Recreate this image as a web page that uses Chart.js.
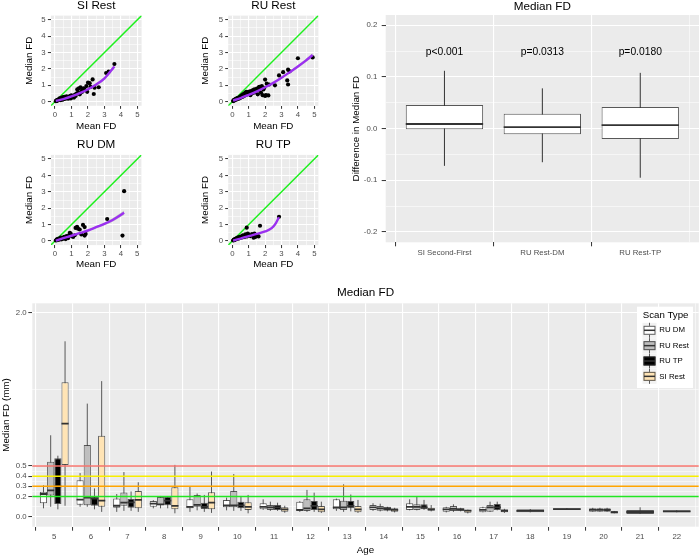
<!DOCTYPE html>
<html><head><meta charset="utf-8">
<script src="https://cdn.jsdelivr.net/npm/chart.js@4.4.1/dist/chart.umd.min.js"></script>
<style>
html,body{margin:0;padding:0;background:#fff}
body{width:700px;height:557px;position:relative;overflow:hidden}
canvas{position:absolute;display:block}
</style></head>
<body>
<canvas id="pSI" width="175" height="135" style="left:0;top:0"></canvas>
<canvas id="pRR" width="175" height="135" style="left:175px;top:0"></canvas>
<canvas id="pDM" width="175" height="135" style="left:0;top:135px"></canvas>
<canvas id="pTP" width="175" height="135" style="left:175px;top:135px"></canvas>
<canvas id="pDiff" width="350" height="270" style="left:350px;top:0"></canvas>
<canvas id="pAge" width="700" height="287" style="left:0;top:270px"></canvas>
<script>
// ---------------- DATA ----------------
// Scatter panels: x = Mean FD, y = Median FD
const SIR_X = [0.05,0.08,0.10,0.12,0.15,0.18,0.20,0.22,0.25,0.28, 0.30,0.32,0.35,0.38,0.40,0.42,0.45,0.48,0.50,0.52, 0.55,0.58,0.60,0.63,0.66,0.70,0.73,0.76,0.80,0.84, 0.88,0.92,0.96,1.00,1.05,1.10,1.15,1.20,1.25,1.30, 1.35,1.40,1.45,1.50,1.55,1.60,1.65,1.70,1.75,1.80, 1.90,1.95,2.00,2.10,2.15,2.28,2.35,2.40,2.65,3.10,3.25,3.60];
const SIR_Y = [0.03,0.06,0.05,0.10,0.08,0.12,0.10,0.15,0.12,0.20, 0.14,0.18,0.10,0.22,0.16,0.25,0.12,0.20,0.28,0.15, 0.22,0.30,0.18,0.25,0.20,0.32,0.22,0.28,0.18,0.30, 0.25,0.35,0.20,0.38,0.28,0.32,0.25,0.42,0.35,0.50, 0.75,0.55,0.82,0.45,0.87,0.65,0.60,0.78,0.82,0.70, 0.95,0.60,1.16,1.13,0.90,1.36,0.47,0.85,0.88,1.75,1.83,2.30];
const RUR_X = [0.05,0.08,0.10,0.12,0.15,0.18,0.20,0.22,0.25,0.28, 0.30,0.33,0.36,0.40,0.43,0.46,0.50,0.53,0.56,0.60, 0.63,0.66,0.70,0.73,0.76,0.80,0.83,0.86,0.90,0.93, 0.96,1.00,1.03,1.06,1.10,1.14,1.18,1.22,1.26,1.30, 1.35,1.40,1.45,1.50,1.55,1.60,1.65,1.70,1.75,1.80, 1.85,1.90,1.95,2.00,2.00,2.05,2.10,2.20,2.25,2.60, 2.85,3.10,3.35,3.40,3.40,3.50,4.00,4.90,1.62];
const RUR_Y = [0.04,0.08,0.06,0.12,0.10,0.15,0.12,0.18,0.14,0.20, 0.16,0.22,0.18,0.25,0.20,0.30,0.24,0.35,0.28,0.40, 0.30,0.45,0.35,0.50,0.38,0.55,0.42,0.60,0.45,0.50, 0.58,0.48,0.62,0.55,0.40,0.65,0.50,0.60,0.70,0.55, 0.75,0.60,0.68,0.80,0.45,0.70,0.90,0.82,0.55,0.95, 0.40,0.75,0.85,1.35,0.35,0.40,1.10,0.38,1.05,1.00, 1.60,1.80,1.30,1.05,1.95,1.85,2.65,2.70,0.88];
const RUD_X = [0.05,0.10,0.12,0.15,0.20,0.22,0.25,0.30,0.35,0.40, 0.45,0.50,0.55,0.60,0.65,0.70,0.75,0.80,0.85,0.90, 0.95,1.00,1.10,1.20,1.25,1.34,1.40,1.50,1.60,1.70, 1.80,1.86,1.80,3.17,4.10,4.20];
const RUD_Y = [0.03,0.08,0.05,0.12,0.10,0.15,0.08,0.12,0.20,0.10, 0.18,0.14,0.25,0.20,0.12,0.30,0.22,0.18,0.35,0.50, 0.45,0.30,0.25,0.35,0.80,0.87,0.75,0.70,0.40,0.98, 0.85,0.43,0.33,1.34,0.33,3.04];
const RUT_X = [0.05,0.08,0.10,0.13,0.15,0.18,0.20,0.23,0.25,0.28, 0.30,0.33,0.36,0.40,0.43,0.46,0.50,0.55,0.60,0.65, 0.70,0.75,0.80,0.85,0.88,0.90,0.95,1.00,1.10,1.20, 1.30,1.35,1.40,1.45,1.50,1.60,1.69,2.85];
const RUT_Y = [0.03,0.06,0.05,0.10,0.08,0.12,0.10,0.14,0.12,0.18, 0.15,0.20,0.14,0.22,0.18,0.25,0.20,0.28,0.22,0.35, 0.30,0.25,0.40,0.35,0.81,0.28,0.45,0.38,0.30,0.42, 0.20,0.45,0.25,0.30,0.35,0.28,0.93,1.48];

// smooth fits and their band half-widths
const SIR_FIT_X = [0.05,0.5,1.0,1.5,2.0,2.5,3.0,3.6];
const SIR_FIT_Y = [0.05,0.16,0.32,0.52,0.76,1.05,1.42,2.15];
const SIR_FIT_SE = [0.04,0.02,0.03,0.04,0.05,0.07,0.09,0.13];
const RUR_FIT_X = [0.05,0.5,1.0,1.5,2.0,2.5,3.0,3.5,4.0,4.5,4.9];
const RUR_FIT_Y = [0.07,0.22,0.42,0.63,0.88,1.15,1.46,1.80,2.15,2.52,2.85];
const RUR_FIT_SE = [0.03,0.02,0.02,0.03,0.04,0.05,0.06,0.07,0.08,0.10,0.12];
const RUD_FIT_X = [0.05,0.5,1.0,1.5,2.0,2.5,3.0,3.5,4.2];
const RUD_FIT_Y = [0.02,0.17,0.32,0.48,0.64,0.84,1.04,1.28,1.72];
const RUD_FIT_SE = [0.04,0.03,0.03,0.04,0.05,0.06,0.08,0.10,0.14];
const RUT_FIT_X = [0.05,0.5,1.0,1.5,2.0,2.4,2.65,2.85];
const RUT_FIT_Y = [0.03,0.15,0.30,0.44,0.58,0.78,1.08,1.45];
const RUT_FIT_SE = [0.03,0.02,0.03,0.04,0.05,0.06,0.07,0.08];

const SC_LIMITS = [-0.25, 5.25];
const SC_MAJOR = [0,1,2,3,4,5];
const SC_MINOR = [0.5,1.5,2.5,3.5,4.5];

// Difference boxplot
const DIFF_CATS = ['SI Second-First','RU Rest-DM','RU Rest-TP'];
const DIFF_LO  = [-0.072,-0.065,-0.095];
const DIFF_Q1  = [-0.001,-0.011,-0.020];
const DIFF_MED = [0.009,0.003,0.007];
const DIFF_Q3  = [0.046,0.029,0.042];
const DIFF_HI  = [0.112,0.078,0.108];
const DIFF_P   = ['p<0.001','p=0.0313','p=0.0180'];
const DIFF_P_Y = 0.148;
const DIFF_MAJOR = [-0.2,-0.1,0.0,0.1,0.2];
const DIFF_MINOR = [-0.15,-0.05,0.05,0.15];

// Age boxplot
const AGES = [5,6,7,8,9,10,11,12,13,14,15,16,17,18,19,20,21,22];
const SERIES = ['RU DM','RU Rest','RU TP','SI Rest'];
const DM_LO  = [0.085,0.10,0.05,0.085,0.05,0.065,0.07,0.05,0.06,0.06,0.065,0.045,0.046,null,null,0.052,null,null];
const DM_Q1  = [0.134,0.12,0.09,0.10,0.085,0.095,0.075,0.059,0.075,0.069,0.069,0.052,0.046,null,null,0.052,null,null];
const DM_MED = [0.225,0.17,0.11,0.13,0.10,0.114,0.10,0.069,0.095,0.095,0.10,0.075,0.069,null,null,0.069,null,null];
const DM_Q3  = [0.248,0.36,0.18,0.157,0.173,0.167,0.134,0.15,0.173,0.118,0.134,0.095,0.095,null,null,0.085,null,null];
const DM_HI  = [0.31,0.43,0.225,0.165,0.297,0.19,0.173,0.155,0.18,0.135,0.173,0.10,0.10,null,null,0.09,null,null];
const RR_LO  = [0.10,0.10,0.06,0.085,0.065,0.06,0.06,0.05,0.05,0.055,0.065,0.05,0.05,null,null,0.052,null,null];
const RR_Q1  = [0.21,0.115,0.11,0.118,0.10,0.095,0.069,0.059,0.069,0.062,0.069,0.059,0.052,null,null,0.052,null,null];
const RR_MED = [0.26,0.19,0.14,0.124,0.118,0.114,0.095,0.085,0.095,0.085,0.10,0.08,0.095,null,null,0.069,null,null];
const RR_Q3  = [0.54,0.705,0.24,0.196,0.216,0.255,0.118,0.173,0.16,0.108,0.124,0.108,0.118,null,null,0.085,null,null];
const RR_HI  = [0.80,1.11,0.44,0.206,0.23,0.42,0.15,0.265,0.32,0.13,0.20,0.124,0.15,null,null,0.09,null,null];
const TP_LO  = [0.075,0.075,0.06,0.085,0.05,0.06,0.06,0.05,0.055,0.055,0.07,0.055,0.065,null,null,0.052,null,null];
const TP_Q1  = [0.128,0.11,0.09,0.115,0.078,0.085,0.069,0.069,0.085,0.062,0.075,0.059,0.069,null,null,0.052,null,null];
const TP_MED = [0.30,0.18,0.144,0.16,0.10,0.114,0.095,0.108,0.108,0.08,0.095,0.075,0.095,null,null,0.069,null,null];
const TP_Q3  = [0.575,0.20,0.176,0.196,0.14,0.15,0.118,0.157,0.157,0.10,0.124,0.085,0.127,null,null,0.085,null,null];
const TP_HI  = [0.60,0.28,0.25,0.196,0.216,0.206,0.14,0.238,0.22,0.10,0.167,0.09,0.15,null,null,0.09,null,null];
const SI_LO  = [0.11,0.05,0.05,0.036,0.04,0.036,0.042,0.04,0.04,0.045,0.055,0.035,0.04,null,null,0.036,null,null];
const SI_Q1  = [0.51,0.10,0.085,0.075,0.075,0.068,0.052,0.046,0.046,0.052,0.062,0.042,0.046,null,null,0.036,null,null];
const SI_MED = [0.915,0.16,0.167,0.108,0.14,0.10,0.075,0.075,0.075,0.069,0.075,0.062,0.06,null,null,0.045,null,null];
const SI_Q3  = [1.32,0.795,0.255,0.29,0.242,0.144,0.095,0.108,0.108,0.085,0.091,0.069,0.075,null,null,0.059,null,null];
const SI_HI  = [1.72,1.33,0.34,0.51,0.445,0.216,0.11,0.15,0.167,0.09,0.117,0.072,0.08,null,null,0.059,null,null];
// ages with a single (full width) box
const ONE_LO  = [null,null,null,null,null,null,null,null,null,null,null,null,null,0.046,0.069,null,0.030,0.046];
const ONE_Q1  = [null,null,null,null,null,null,null,null,null,null,null,null,null,0.046,0.072,null,0.030,0.046];
const ONE_MED = [null,null,null,null,null,null,null,null,null,null,null,null,null,0.059,0.078,null,0.049,0.055];
const ONE_Q3  = [null,null,null,null,null,null,null,null,null,null,null,null,null,0.075,0.085,null,0.069,0.066];
const ONE_HI  = [null,null,null,null,null,null,null,null,null,null,null,null,null,0.078,0.088,null,0.095,0.066];
const AGE_MAJOR = [0.0,0.2,0.3,0.4,0.5,2.0];
const AGE_MINOR = [0.1,0.25,0.35,0.45,1.25];
const THRESH = [0.5,0.4,0.3,0.2];
const THRESH_COLORS = ['#F4736C','#F8EE00','#FFA500','#22E622'];

// ---------------- STYLE ----------------
const FONT = "'Liberation Sans', Arial, Helvetica, sans-serif";
Chart.defaults.font.family = FONT;
Chart.defaults.color = '#4D4D4D';
const PANEL_BG = '#EBEBEB';
const FILLS = ['#FFFFFF','#BEBEBE','#000000','#FFE4B5'];
const BOX_BORDER = 'rgba(51,51,51,0.8)';
const PURPLE = '#9B30F0';
const GREEN = '#1EF01E';

const near = (arr, v) => arr.some(a => Math.abs(a - v) < 1e-9);
const isMajor = (arr, c) => !!(c && c.tick && near(arr, c.tick.value));
const bgPlugin = { id: 'panelBg', beforeDraw(chart) {
  const {ctx, chartArea: a} = chart;
  ctx.save(); ctx.fillStyle = PANEL_BG; ctx.fillRect(a.left, a.top, a.right - a.left, a.bottom - a.top); ctx.restore();
}};
function gridOpts(major, tickLen) {
  return {
    color: '#FFFFFF',
    lineWidth: c => isMajor(major, c) ? 1.1 : 0.55,
    tickColor: c => isMajor(major, c) ? '#333333' : 'rgba(0,0,0,0)',
    tickWidth: 1,
    tickLength: tickLen,
    drawTicks: true
  };
}
const setTicks = vals => s => { s.ticks = vals.slice().sort((a, b) => a - b).map(v => ({value: v})); };

// ---------------- SCATTER PANELS ----------------
function scatterPanel(id, title, xs, ys, fx, fy, fse, area, tPad, yTitlePad, xTitlePad) {
  const W = 175, H = 135;
  const pts = xs.map((x, i) => ({x, y: ys[i]}));
  const fit = fx.map((x, i) => ({x, y: fy[i]}));
  const lo = fx.map((x, i) => ({x, y: fy[i] - fse[i]}));
  const hi = fx.map((x, i) => ({x, y: fy[i] + fse[i]}));
  const ident = SC_LIMITS.map(v => ({x: v, y: v}));
  new Chart(document.getElementById(id), {
    type: 'scatter',
    data: { datasets: [
      {type: 'line', data: lo, borderWidth: 0, borderColor: 'rgba(0,0,0,0)', pointRadius: 0, cubicInterpolationMode: 'monotone', fill: false, order: 4},
      {type: 'line', data: hi, borderWidth: 0, borderColor: 'rgba(0,0,0,0)', pointRadius: 0, cubicInterpolationMode: 'monotone', fill: '-1', backgroundColor: 'rgba(150,150,150,0.45)', order: 3},
      {type: 'line', data: ident, borderColor: GREEN, borderWidth: 1.4, pointRadius: 0, fill: false, order: 2},
      {type: 'scatter', data: pts, backgroundColor: '#000', borderWidth: 0, pointRadius: 2.1, order: 1},
      {type: 'line', data: fit, borderColor: PURPLE, borderWidth: 2.4, pointRadius: 0, cubicInterpolationMode: 'monotone', fill: false, order: 0}
    ]},
    options: {
      responsive: false, animation: false, events: [],
      layout: {padding: {left: 0, right: W - area.right, top: 0, bottom: 0}},
      plugins: {
        legend: {display: false}, tooltip: {enabled: false},
        title: {display: true, text: title, fullSize: false, color: '#000', font: {size: 11.7, weight: 'normal', lineHeight: 1}, padding: {top: tPad, bottom: area.top - 11.7 - tPad}}
      },
      scales: {
        x: {type: 'linear', min: SC_LIMITS[0], max: SC_LIMITS[1], afterBuildTicks: setTicks(SC_MAJOR.concat(SC_MINOR)),
            afterFit: s => { s.height = H - area.bottom; },
            ticks: {autoSkip: false, maxRotation: 0, font: {size: 7.8}, color: '#4D4D4D', padding: 1.5, callback: v => near(SC_MAJOR, v) ? String(v) : ''},
            grid: gridOpts(SC_MAJOR, 3), border: {display: false},
            title: {display: true, text: 'Mean FD', color: '#000', font: {size: 9.8}, padding: {top: 0, bottom: xTitlePad}}},
        y: {type: 'linear', min: SC_LIMITS[0], max: SC_LIMITS[1], afterBuildTicks: setTicks(SC_MAJOR.concat(SC_MINOR)),
            afterFit: s => { s.width = area.left; },
            ticks: {autoSkip: false, font: {size: 7.8}, color: '#4D4D4D', padding: 2.2, callback: v => near(SC_MAJOR, v) ? String(v) : ''},
            grid: gridOpts(SC_MAJOR, 3), border: {display: false},
            title: {display: true, text: 'Median FD', color: '#000', font: {size: 9.8}, padding: {top: yTitlePad, bottom: 0}}}
      }
    },
    plugins: [bgPlugin]
  });
}
scatterPanel('pSI', 'SI Rest', SIR_X, SIR_Y, SIR_FIT_X, SIR_FIT_Y, SIR_FIT_SE, {left: 50.9, right: 141.6, top: 15.6, bottom: 105.8}, 0.4, 23.1, 3.1);
scatterPanel('pRR', 'RU Rest', RUR_X, RUR_Y, RUR_FIT_X, RUR_FIT_Y, RUR_FIT_SE, {left: 53.2, right: 143.4, top: 15.6, bottom: 105.8}, 0.4, 24.9, 3.1);
scatterPanel('pDM', 'RU DM', RUD_X, RUD_Y, RUD_FIT_X, RUD_FIT_Y, RUD_FIT_SE, {left: 50.9, right: 141.4, top: 19.9, bottom: 110.1}, 4.1, 23.1, 0);
scatterPanel('pTP', 'RU TP', RUT_X, RUT_Y, RUT_FIT_X, RUT_FIT_Y, RUT_FIT_SE, {left: 53.2, right: 143.4, top: 19.9, bottom: 110.1}, 4.1, 24.9, 0);

// ---------------- BOX HELPERS ----------------
function buildBoxes(xs, lo, q1, med, q3, hi) {
  const out = [];
  xs.forEach((x, i) => { if (q1[i] == null) return; out.push({x, y: [q1[i], q3[i]], lo: lo[i], med: med[i], hi: hi[i]}); });
  return out;
}
const boxPlugin = {
  id: 'boxParts',
  beforeDatasetsDraw(chart) { drawParts(chart, 'whisker'); },
  afterDatasetsDraw(chart) { drawParts(chart, 'median'); }
};
function drawParts(chart, part) {
  const ctx = chart.ctx, ys = chart.scales.y, a = chart.chartArea;
  ctx.save();
  ctx.beginPath(); ctx.rect(a.left, a.top, a.right - a.left, a.bottom - a.top); ctx.clip();
  chart.data.datasets.forEach((ds, di) => {
    const meta = chart.getDatasetMeta(di);
    meta.data.forEach((el, i) => {
      const r = ds.data[i];
      const {x, width} = el.getProps(['x', 'width'], true);
      if (part === 'whisker') {
        ctx.strokeStyle = ds.whiskerColor; ctx.lineWidth = 1;
        ctx.beginPath(); ctx.moveTo(x, ys.getPixelForValue(r.hi)); ctx.lineTo(x, ys.getPixelForValue(r.lo)); ctx.stroke();
      } else {
        const yy = ys.getPixelForValue(r.med);
        ctx.strokeStyle = ds.medianColor; ctx.lineWidth = 1.8;
        ctx.beginPath(); ctx.moveTo(x - width / 2, yy); ctx.lineTo(x + width / 2, yy); ctx.stroke();
      }
    });
  });
  ctx.restore();
}

// ---------------- DIFFERENCE BOXPLOT ----------------
(function () {
  const W = 350, H = 270, area = {left: 35.7, right: 349, top: 15, bottom: 242.3};
  const xs = DIFF_CATS.map((c, i) => i + 1);
  const pPlugin = { id: 'pLabels', afterDatasetsDraw(chart) {
    const ctx = chart.ctx;
    ctx.save(); ctx.fillStyle = '#000'; ctx.font = '10.3px ' + FONT; ctx.textAlign = 'center'; ctx.textBaseline = 'middle';
    DIFF_P.forEach((t, i) => ctx.fillText(t, chart.scales.x.getPixelForValue(xs[i]), chart.scales.y.getPixelForValue(DIFF_P_Y)));
    ctx.restore();
  }};
  new Chart(document.getElementById('pDiff'), {
    type: 'bar',
    data: { datasets: [{
      data: buildBoxes(xs, DIFF_LO, DIFF_Q1, DIFF_MED, DIFF_Q3, DIFF_HI),
      backgroundColor: '#FFFFFF', borderColor: BOX_BORDER, borderWidth: 1, borderSkipped: false,
      categoryPercentage: 0.79, barPercentage: 1, whiskerColor: '#333333', medianColor: '#333333'
    }]},
    options: {
      responsive: false, animation: false, events: [],
      layout: {padding: {left: 0, right: W - area.right, top: 0, bottom: 0}},
      plugins: {
        legend: {display: false}, tooltip: {enabled: false},
        title: {display: true, text: 'Median FD', fullSize: false, color: '#000', font: {size: 11.7, weight: 'normal', lineHeight: 1}, padding: {top: 0.8, bottom: area.top - 11.7 - 0.8}}
      },
      scales: {
        x: {type: 'linear', min: 0.4, max: 3.6, offset: false, afterBuildTicks: setTicks(xs),
            afterFit: s => { s.height = H - area.bottom; },
            ticks: {autoSkip: false, maxRotation: 0, font: {size: 7.8}, color: '#4D4D4D', padding: 1.7, callback: v => DIFF_CATS[Math.round(v) - 1] || ''},
            grid: gridOpts(xs, 4), border: {display: false}},
        y: {type: 'linear', min: -0.22, max: 0.22, afterBuildTicks: setTicks(DIFF_MAJOR.concat(DIFF_MINOR)),
            afterFit: s => { s.width = area.left; },
            ticks: {autoSkip: false, font: {size: 7.8}, color: '#4D4D4D', padding: 4.4, callback: v => near(DIFF_MAJOR, v) ? v.toFixed(1) : ''},
            grid: gridOpts(DIFF_MAJOR, 4), border: {display: false},
            title: {display: true, text: 'Difference in Median FD', color: '#000', font: {size: 9.8}, padding: {top: 0, bottom: 0}}}
      }
    },
    plugins: [bgPlugin, boxPlugin, pPlugin]
  });
})();

// ---------------- AGE BOXPLOT ----------------
(function () {
  const W = 700, H = 287, area = {left: 32.3, right: 698.7, top: 33.3, bottom: 256.7};
  const series = [
    [DM_LO, DM_Q1, DM_MED, DM_Q3, DM_HI],
    [RR_LO, RR_Q1, RR_MED, RR_Q3, RR_HI],
    [TP_LO, TP_Q1, TP_MED, TP_Q3, TP_HI],
    [SI_LO, SI_Q1, SI_MED, SI_Q3, SI_HI]
  ];
  const datasets = series.map((s, k) => ({
    label: SERIES[k], data: buildBoxes(AGES, ...s),
    backgroundColor: FILLS[k], borderColor: BOX_BORDER, borderWidth: 1, borderSkipped: false,
    categoryPercentage: 0.785, barPercentage: 1, whiskerColor: 'rgba(51,51,51,0.8)', medianColor: '#333333'
  }));
  datasets.push({
    label: 'single', data: buildBoxes(AGES, ONE_LO, ONE_Q1, ONE_MED, ONE_Q3, ONE_HI), grouped: false,
    backgroundColor: '#9A9A9A', borderColor: BOX_BORDER, borderWidth: 1, borderSkipped: false,
    categoryPercentage: 0.785, barPercentage: 0.96, whiskerColor: 'rgba(51,51,51,0.8)', medianColor: '#333333'
  });
  const hlinePlugin = { id: 'thresholds', afterDatasetsDraw(chart) {
    const ctx = chart.ctx, a = chart.chartArea, ys = chart.scales.y;
    ctx.save(); ctx.lineWidth = 1.5;
    THRESH.forEach((v, i) => { const y = ys.getPixelForValue(v); ctx.strokeStyle = THRESH_COLORS[i]; ctx.beginPath(); ctx.moveTo(a.left, y); ctx.lineTo(a.right, y); ctx.stroke(); });
    ctx.restore();
  }};
  const legendPlugin = { id: 'boxLegend', afterDraw(chart) {
    const ctx = chart.ctx, a = chart.chartArea;
    const L = a.right - 61.7, T = a.top + 3.4, Wd = 56, Hd = 81.3;
    ctx.save();
    ctx.fillStyle = '#FFFFFF'; ctx.fillRect(L, T, Wd, Hd);
    ctx.fillStyle = '#000'; ctx.font = '9.7px ' + FONT; ctx.textBaseline = 'middle'; ctx.textAlign = 'left';
    ctx.fillText('Scan Type', L + 5.7, T + 8.6);
    SERIES.forEach((name, k) => {
      const cy = T + 23.6 + k * 15.35, kx = L + 5.5;
      ctx.fillStyle = '#F2F2F2'; ctx.fillRect(kx, cy - 7.5, 14, 15);
      ctx.strokeStyle = 'rgba(51,51,51,0.8)'; ctx.lineWidth = 1;
      ctx.beginPath(); ctx.moveTo(kx + 7, cy - 7.5); ctx.lineTo(kx + 7, cy + 7.5); ctx.stroke();
      ctx.fillStyle = FILLS[k]; ctx.fillRect(kx + 1, cy - 4.5, 12, 9);
      ctx.strokeStyle = BOX_BORDER; ctx.strokeRect(kx + 1.5, cy - 4, 11, 8);
      ctx.strokeStyle = '#333'; ctx.lineWidth = 1.5; ctx.beginPath(); ctx.moveTo(kx + 1.5, cy); ctx.lineTo(kx + 12.5, cy); ctx.stroke();
      ctx.fillStyle = '#000'; ctx.font = '7.85px ' + FONT;
      ctx.fillText(name, L + 22.3, cy);
    });
    ctx.restore();
  }};
  new Chart(document.getElementById('pAge'), {
    type: 'bar',
    data: {datasets},
    options: {
      responsive: false, animation: false, events: [],
      layout: {padding: {left: 0, right: W - area.right, top: 0, bottom: 0}},
      plugins: {
        legend: {display: false}, tooltip: {enabled: false},
        title: {display: true, text: 'Median FD', fullSize: false, color: '#000', font: {size: 11.7, weight: 'normal', lineHeight: 1.2}, padding: {top: 15.7, bottom: area.top - 14.04 - 15.7}}
      },
      scales: {
        x: {type: 'linear', min: 4.4, max: 22.6, offset: false, afterBuildTicks: setTicks(AGES),
            afterFit: s => { s.height = H - area.bottom; },
            ticks: {autoSkip: false, maxRotation: 0, font: {size: 7.8}, color: '#4D4D4D', padding: 1.3, callback: v => String(v)},
            grid: gridOpts(AGES, 4), border: {display: false},
            title: {display: true, text: 'Age', color: '#000', font: {size: 9.8}, padding: {top: 0, bottom: 0.4}}},
        y: {type: 'linear', min: -0.095, max: 2.092, afterBuildTicks: setTicks(AGE_MAJOR.concat(AGE_MINOR)),
            afterFit: s => { s.width = area.left; },
            ticks: {autoSkip: false, font: {size: 7.8}, color: '#4D4D4D', padding: 1.6, callback: v => near(AGE_MAJOR, v) ? v.toFixed(1) : ''},
            grid: gridOpts(AGE_MAJOR, 4), border: {display: false},
            title: {display: true, text: 'Median FD (mm)', color: '#000', font: {size: 9.8}, padding: {top: 0, bottom: 0}}}
      }
    },
    plugins: [bgPlugin, boxPlugin, hlinePlugin, legendPlugin]
  });
})();
</script>
</body></html>
